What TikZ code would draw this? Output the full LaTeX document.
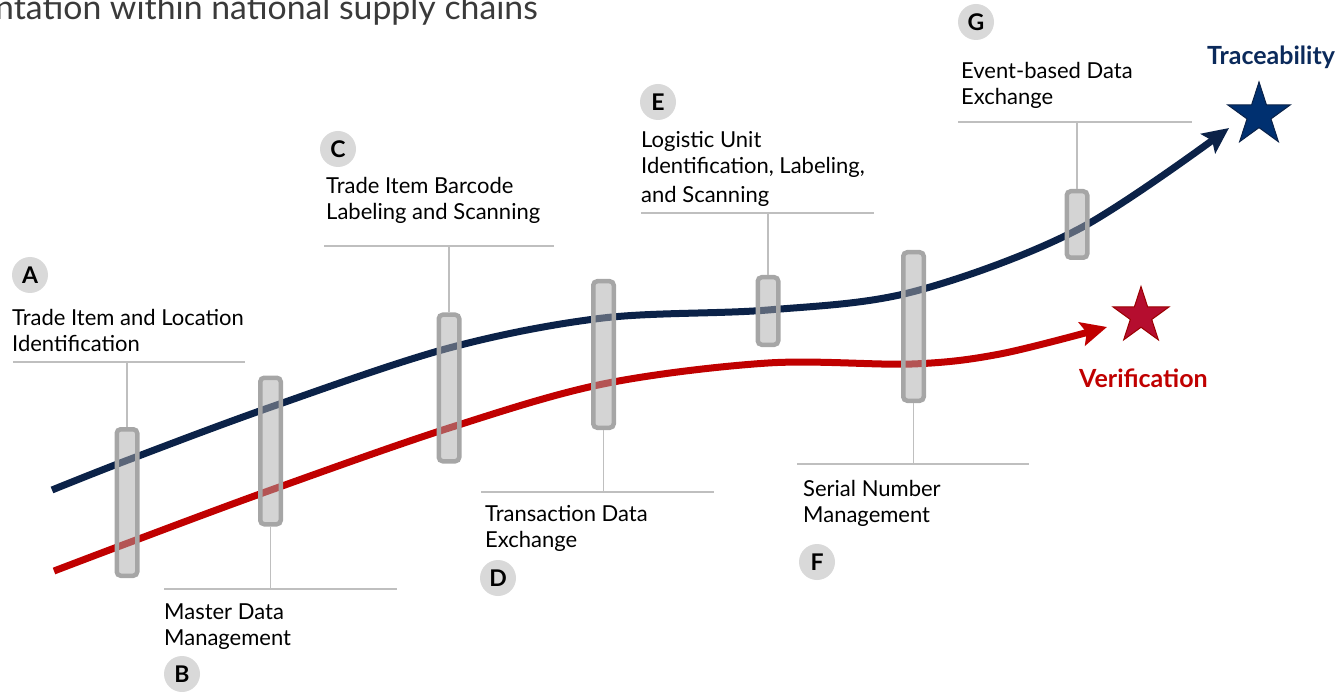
\documentclass[tikz,border=0pt]{standalone}
\usepackage{fontspec}
\setmainfont{Lato}
\usetikzlibrary{arrows.meta,shapes.geometric}

\definecolor{navyline}{HTML}{0B2248}
\definecolor{redline}{HTML}{C00000}
\definecolor{bargray}{HTML}{A6A6A6}
\definecolor{barfill}{HTML}{A9A9A9}
\definecolor{leadgray}{HTML}{BFBFBF}
\definecolor{badgegray}{HTML}{D9D9D9}
\definecolor{titlegray}{HTML}{3A3A3A}
\definecolor{navystar}{HTML}{003070}
\definecolor{redstar}{HTML}{B50D2F}
\definecolor{tracenavy}{HTML}{0B2A5B}

\tikzset{
  stagebar/.style={draw=bargray, line width=4.5pt, fill=barfill, fill opacity=0.5,
    draw opacity=1, rounded corners=4pt, minimum width=20.5pt, inner sep=0pt},
  leader/.style={draw=leadgray, line width=1.3pt},
  steptext/.style={align=left, inner sep=0pt, anchor=base west,
    font=\fontsize{22}{26}\selectfont},
  badge/.style={circle, fill=badgegray, minimum size=36pt, inner sep=0pt,
    font=\fontsize{23}{23}\selectfont\bfseries},
  track/.style={line width=7pt, line cap=butt},
  goalstar/.style={star, star points=5, star point ratio=2.618, inner sep=0pt,
    line width=1pt},
}

\begin{document}
\begin{tikzpicture}[x=1pt,y=-1pt]
  \useasboundingbox (0,0) rectangle (1343,692);
  \clip (0,0) rectangle (1343,692);

  % title, cut at the left edge
  \node[anchor=base east, inner sep=0pt, text=titlegray,
    font=\fontsize{33.8}{33.8}\selectfont] (title) at (538,20)
    {ntation within national supply chains};

  % the two tracks
  \draw[track, navyline, -{Stealth[length=26pt, width=24pt, inset=5pt]}]
    plot[smooth, tension=0.55] coordinates {(52,490) (128,460) (271,407) (449,348)
      (603,318) (768,310) (912,292) (1077,230) (1229,128)};
  \draw[track, redline, -{Stealth[length=26pt, width=24pt, inset=5pt]}]
    plot[smooth, tension=0.55] coordinates {(54,571) (128,543) (271,490) (449,428)
      (603,384) (768,363) (912,364) (1000,354) (1107,327)};

  % stages
  \node[stagebar, minimum height=146.5pt] (barA) at (127,502.5) {};
  \node[stagebar, minimum height=146.5pt] (barB) at (270.5,451) {};
  \node[stagebar, minimum height=146.5pt] (barC) at (449,388) {};
  \node[stagebar, minimum height=146.5pt] (barD) at (603.5,354.5) {};
  \node[stagebar, minimum height=67.5pt] (barE) at (768,311) {};
  \node[stagebar, minimum height=148.5pt] (barF) at (913.5,326.5) {};
  \node[stagebar, minimum height=66.5pt] (barG) at (1077,224.5) {};

  % leaders
  \coordinate (leadA) at (127,362);
  \coordinate (leadB) at (270.5,589);
  \coordinate (leadC) at (449,246);
  \coordinate (leadD) at (603.5,492);
  \coordinate (leadE) at (768,213);
  \coordinate (leadF) at (913.5,464);
  \coordinate (leadG) at (1077,122);
  \draw[leader] (13,362) -- (245,362);
  \draw[leader] (164,589) -- (397,589);
  \draw[leader] (324,246) -- (554,246);
  \draw[leader] (481,492) -- (714,492);
  \draw[leader] (641,213) -- (874,213);
  \draw[leader] (797,464) -- (1029,464);
  \draw[leader] (958,122) -- (1192,122);
  \draw[leader] (barA.north) -- (leadA);
  \draw[leader] (barB.south) -- (leadB);
  \draw[leader] (barC.north) -- (leadC);
  \draw[leader] (barD.south) -- (leadD);
  \draw[leader] (barE.north) -- (leadE);
  \draw[leader] (barF.south) -- (leadF);
  \draw[leader] (barG.north) -- (leadG);

  % texts (placed at the baseline of their last line)
  \node[steptext] (textA) at (12,352) {Trade Item and Location\\Identification};
  \node[steptext] (textB) at (164,645) {Master Data\\Management};
  \node[steptext] (textC) at (326,220) {Trade Item Barcode\\Labeling and Scanning};
  \node[steptext] (textD) at (485,547) {Transaction Data\\Exchange};
  \node[steptext] (textE) at (641,203) {Logistic Unit\\Identification, Labeling,\\[3pt]and Scanning};
  \node[steptext] (textF) at (803,522) {Serial Number\\Management};
  \node[steptext] (textG) at (961,105) {Event-based Data\\Exchange};

  % badges
  \node[badge] (badgeA) at (30,275) {A};
  \node[badge] (badgeB) at (182,674) {B};
  \node[badge] (badgeC) at (338,149) {C};
  \node[badge] (badgeD) at (498,578) {D};
  \node[badge] (badgeE) at (658,102) {E};
  \node[badge] (badgeF) at (817,562) {F};
  \node[badge] (badgeG) at (976,22) {G};

  % goals
  \node[goalstar, minimum size=66pt, fill=navystar, draw=navyline] (traceStar) at (1259,115) {};
  \node[goalstar, minimum size=59pt, fill=redstar, draw=redline!80!black] (verifStar) at (1141,316) {};
  \node[anchor=base west, inner sep=0pt, text=tracenavy,
    font=\fontsize{25}{25}\selectfont\bfseries] (traceText) at (1207,65) {Traceability};
  \node[anchor=base west, inner sep=0pt, text=redline,
    font=\fontsize{25}{25}\selectfont\bfseries] (verifText) at (1079,387) {Verification};
\end{tikzpicture}
\end{document}
